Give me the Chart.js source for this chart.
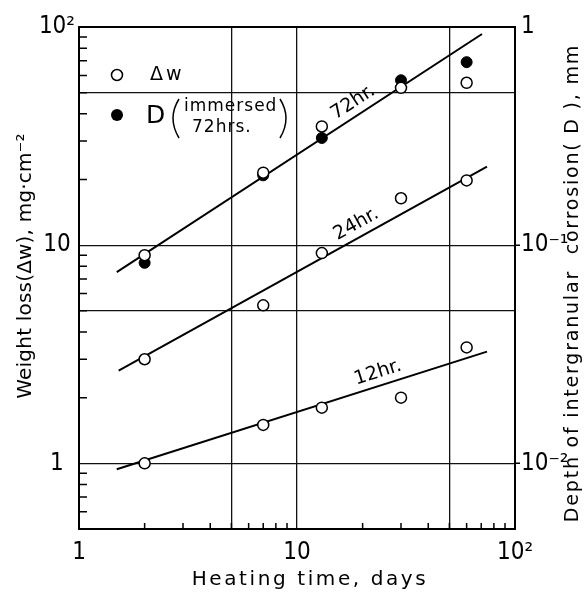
<!DOCTYPE html>
<html>
<head>
<meta charset="utf-8">
<script src="https://cdn.jsdelivr.net/npm/chart.js@4.4.0/dist/chart.umd.min.js"></script>
<style>
  html, body { margin: 0; padding: 0; background: #fff; }
  #wrap { width: 585px; height: 594px; }
</style>
</head>
<body>
<div id="wrap"><canvas id="corrosionChart"></canvas></div>
<script>
// heating time (days) and measured values
const days = [2, 7, 13, 30, 60];
const weightLoss72 = [9.0, 21.5, 35, 52.6, 55.5];   // mg/cm2
const weightLoss24 = [3.0, 5.3, 9.2, 16.4, 19.8];
const weightLoss12 = [1.0, 1.5, 1.8, 2.0, 3.4];
const depth72 = [0.083, 0.209, 0.31, 0.57, 0.69];  // mm, right axis

// straight fitted lines (end points)
const fit72Days = [1.49, 70.6], fit72Loss = [7.53, 92.9];
const fit24Days = [1.52, 74.4], fit24Loss = [2.66, 22.9];
const fit12Days = [1.49, 74.4], fit12Loss = [0.94, 3.25];

const lineNames = ['72hr.', '24hr.', '12hr.'];
const lineLabelDays = [19.5, 20, 24.5];

// axes
const xTickValues = [1, 2, 3, 4, 5, 6, 7, 8, 9, 10, 20, 30, 40, 50, 60, 70, 80, 90, 100];
const xLabelValues = [1, 10, 100];
const xLabelTexts = ['1', '10', '10²'];
const xGridValues = [5, 10, 50];

const yTickValues = [0.6, 0.7, 0.8, 0.9, 1, 2, 3, 4, 5, 6, 7, 8, 9, 10, 20, 30, 40, 50, 60, 70, 80, 90, 100];
const yLabelValues = [1, 10, 100];
const yLabelTexts = ['1', '10', '10²'];
const yGridValues = [1, 5, 10, 50];

const depthLabelValues = [0.01, 0.1, 1];
const depthLabelTexts = ['10⁻²', '10⁻¹', '1'];

const FONT = "'Liberation Sans Narrow', 'DejaVu Sans Condensed', 'DejaVu Sans', sans-serif";
const TITLE_FONT = "'DejaVu Sans', sans-serif";

const toPoints = (xs, ys) => xs.map((x, i) => ({ x: x, y: ys[i] }));
const pickLabel = (vals, texts) => (v) => {
    const i = vals.findIndex(t => Math.abs(t - v) < 1e-9);
    return i >= 0 ? texts[i] : '';
};

const fitLine = (xs, ys) => ({
    data: toPoints(xs, ys),
    showLine: true,
    borderColor: '#000',
    borderWidth: 2,
    pointRadius: 0,
    order: 5
});

const annotate = {
    id: 'annotate',
    beforeDatasetsDraw(chart) {
        const ctx = chart.ctx;
        const xs = chart.scales.x, ys = chart.scales.y, y2 = chart.scales.y2;
        const area = chart.chartArea;
        ctx.save();
        ctx.strokeStyle = '#000';
        ctx.lineWidth = 1.5;
        ctx.beginPath();
        yTickValues.forEach(v => {
            if (yLabelValues.includes(v)) return;
            const py = ys.getPixelForValue(v);
            ctx.moveTo(area.left, py);
            ctx.lineTo(area.left + 8, py);
        });
        xTickValues.forEach(v => {
            if (xLabelValues.includes(v)) return;
            const px = xs.getPixelForValue(v);
            ctx.moveTo(px, area.bottom);
            ctx.lineTo(px, area.bottom - 6);
        });
        depthLabelValues.slice(0, 2).forEach(v => {
            const py = y2.getPixelForValue(v);
            ctx.moveTo(area.right, py);
            ctx.lineTo(area.right + 5, py);
        });
        ctx.stroke();
        ctx.restore();
    },
    afterDraw(chart) {
        const ctx = chart.ctx;
        const xs = chart.scales.x, ys = chart.scales.y;
        const area = chart.chartArea;
        ctx.save();
        ctx.fillStyle = '#000';
        ctx.strokeStyle = '#000';
        ctx.textAlign = 'center';
        ctx.textBaseline = 'middle';

        // labels along the fitted lines
        const fits = [[fit72Days, fit72Loss], [fit24Days, fit24Loss], [fit12Days, fit12Loss]];
        ctx.font = '19px ' + TITLE_FONT;
        ctx.letterSpacing = '0px';
        fits.forEach((f, i) => {
            const x1 = xs.getPixelForValue(f[0][0]), y1 = ys.getPixelForValue(f[1][0]);
            const x2 = xs.getPixelForValue(f[0][1]), y2 = ys.getPixelForValue(f[1][1]);
            const ang = Math.atan2(y2 - y1, x2 - x1);
            const px = xs.getPixelForValue(lineLabelDays[i]);
            const py = y1 + (y2 - y1) * (px - x1) / (x2 - x1);
            const off = 13;
            ctx.save();
            ctx.translate(px + Math.sin(ang) * off, py - Math.cos(ang) * off);
            ctx.rotate(ang);
            ctx.fillText(lineNames[i], 0, 0);
            ctx.restore();
        });

        // legend
        const lx = area.left + 38;
        ctx.lineWidth = 1.5;
        ctx.beginPath();
        ctx.arc(lx, area.top + 48, 5.5, 0, Math.PI * 2);
        ctx.fillStyle = '#fff';
        ctx.fill();
        ctx.stroke();
        ctx.fillStyle = '#000';
        ctx.beginPath();
        ctx.arc(lx, area.top + 88, 6, 0, Math.PI * 2);
        ctx.fill();
        ctx.textAlign = 'left';
        ctx.font = '19px ' + TITLE_FONT;
        ctx.letterSpacing = '3px';
        ctx.fillText('\u0394w', lx + 33, area.top + 48);
        ctx.font = '25px ' + TITLE_FONT;
        ctx.letterSpacing = '0px';
        ctx.fillText('D', lx + 29, area.top + 89);
        ctx.font = '17px ' + TITLE_FONT;
        ctx.letterSpacing = '1px';
        ctx.fillText('immersed', lx + 67, area.top + 80);
        ctx.fillText('72hrs.', lx + 75, area.top + 101);
        ctx.lineWidth = 1.5;
        ctx.beginPath();
        ctx.moveTo(lx + 62, area.top + 72);
        ctx.quadraticCurveTo(lx + 50, area.top + 91, lx + 62, area.top + 111);
        ctx.moveTo(lx + 163, area.top + 72);
        ctx.quadraticCurveTo(lx + 175, area.top + 91, lx + 163, area.top + 111);
        ctx.stroke();

        // axis titles
        ctx.textAlign = 'center';
        ctx.textBaseline = 'alphabetic';
        ctx.font = '20px ' + TITLE_FONT;
        ctx.letterSpacing = '2.6px';
        ctx.fillText('Heating time, days', (area.left + area.right) / 2 + 13, 585);

        ctx.letterSpacing = '0.2px';
        ctx.save();
        ctx.translate(31, 266);
        ctx.rotate(-Math.PI / 2);
        ctx.fillText('Weight loss(\u0394w), mg\u00b7cm\u207b\u00b2', 0, 0);
        ctx.restore();

        ctx.font = '19px ' + TITLE_FONT;
        ctx.letterSpacing = '1.8px';
        ctx.save();
        ctx.translate(578, 283);
        ctx.rotate(-Math.PI / 2);
        ctx.fillText('Depth of intergranular  corrosion( D ), mm', 0, 0);
        ctx.restore();
        ctx.restore();
    }
};

const ctx = document.getElementById('corrosionChart').getContext('2d');

new Chart(ctx, {
    type: 'scatter',
    data: {
        datasets: [
            fitLine(fit72Days, fit72Loss),
            fitLine(fit24Days, fit24Loss),
            fitLine(fit12Days, fit12Loss),
            {
                data: toPoints(days, depth72),
                yAxisID: 'y2',
                pointRadius: 5.5,
                pointBackgroundColor: '#000',
                pointBorderColor: '#000',
                pointBorderWidth: 1,
                showLine: false,
                order: 3
            },
            {
                data: toPoints(days, weightLoss72).concat(toPoints(days, weightLoss24), toPoints(days, weightLoss12)),
                pointRadius: 5.5,
                pointBackgroundColor: '#fff',
                pointBorderColor: '#000',
                pointBorderWidth: 1.5,
                showLine: false,
                order: 1
            }
        ]
    },
    options: {
        responsive: true,
        maintainAspectRatio: false,
        animation: false,
        layout: { padding: 0 },
        plugins: { legend: { display: false }, tooltip: { enabled: false } },
        scales: {
            x: {
                type: 'logarithmic',
                position: 'bottom',
                min: 1, max: 100,
                afterBuildTicks: (s) => { s.ticks = xTickValues.map(v => ({ value: v })); },
                afterFit: (s) => { s.height = 65; },
                border: { color: '#000', width: 2 },
                grid: {
                    drawTicks: false,
                    lineWidth: 1.3,
                    color: (c) => c.tick && xGridValues.includes(c.tick.value) ? '#111' : 'rgba(0,0,0,0)'
                },
                ticks: {
                    autoSkip: false, maxRotation: 0, padding: 9,
                    color: '#000',
                    font: { family: FONT, size: 24 },
                    callback: pickLabel(xLabelValues, xLabelTexts)
                }
            },
            x2: {
                type: 'logarithmic',
                position: 'top',
                min: 1, max: 100,
                afterFit: (s) => { s.height = 27; },
                border: { color: '#000', width: 2 },
                grid: { drawOnChartArea: false, drawTicks: false },
                ticks: { display: false }
            },
            y: {
                type: 'logarithmic',
                position: 'left',
                min: 0.5, max: 100,
                afterBuildTicks: (s) => { s.ticks = yTickValues.map(v => ({ value: v })); },
                afterFit: (s) => { s.width = 79; },
                border: { color: '#000', width: 2 },
                grid: {
                    drawTicks: false,
                    lineWidth: 1.3,
                    color: (c) => c.tick && yGridValues.includes(c.tick.value) ? '#111' : 'rgba(0,0,0,0)'
                },
                ticks: {
                    autoSkip: false, padding: 4, crossAlign: 'center',
                    color: '#000',
                    font: { family: FONT, size: 24 },
                    callback: pickLabel(yLabelValues, yLabelTexts)
                }
            },
            y2: {
                type: 'logarithmic',
                position: 'right',
                min: 0.005, max: 1,
                afterBuildTicks: (s) => { s.ticks = depthLabelValues.map(v => ({ value: v })); },
                afterFit: (s) => { s.width = 70; },
                border: { color: '#000', width: 2 },
                grid: { drawOnChartArea: false, drawTicks: false },
                ticks: {
                    autoSkip: false, padding: 6,
                    color: '#000',
                    font: { family: FONT, size: 24 },
                    callback: pickLabel(depthLabelValues, depthLabelTexts)
                }
            }
        }
    },
    plugins: [annotate]
});
</script>
</body>
</html>
